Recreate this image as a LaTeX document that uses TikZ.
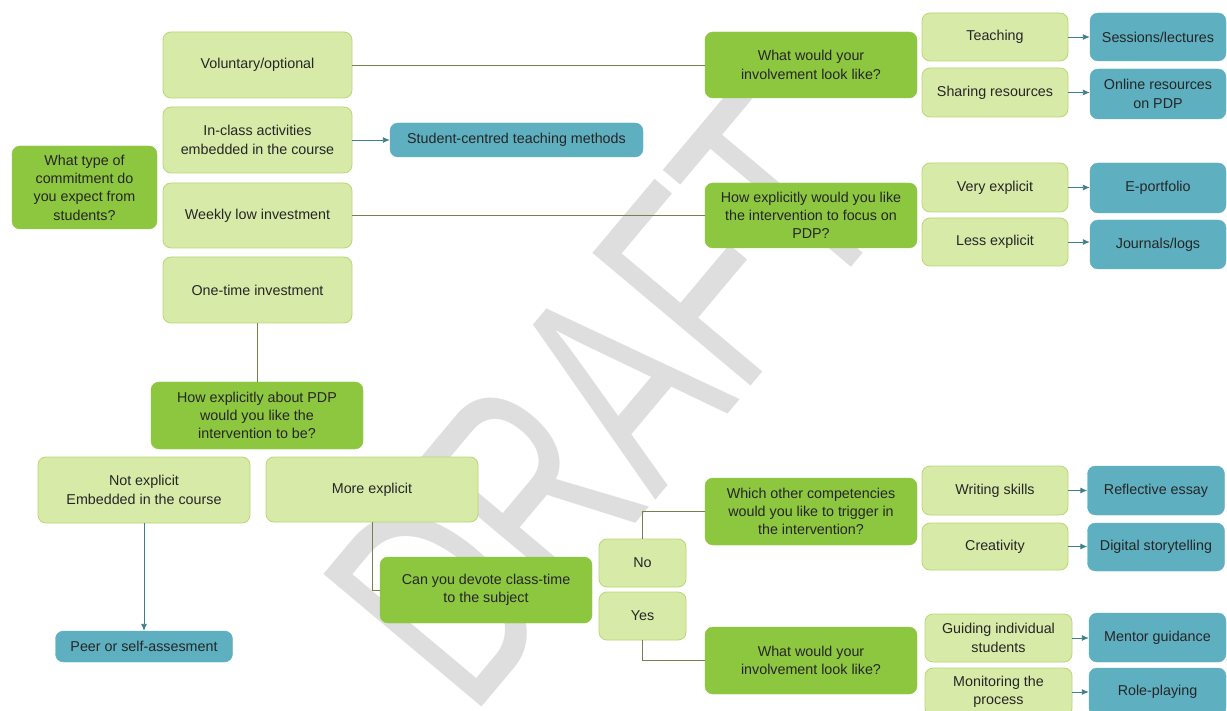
\documentclass[tikz,border=0pt]{standalone}
\usepackage{fontspec}
\usepackage{graphicx}
\setmainfont{Liberation Sans}
\usetikzlibrary{arrows.meta}
\definecolor{qg}{HTML}{8DC63F}
\definecolor{lg}{HTML}{D7EAA8}
\definecolor{lgb}{HTML}{B9D873}
\definecolor{tl}{HTML}{5EAFC0}
\definecolor{ln}{HTML}{75804F}
\definecolor{ar}{HTML}{3F7F8C}
\definecolor{tx}{HTML}{262626}
\definecolor{wm}{HTML}{DEDEDE}
\begin{document}
\begin{tikzpicture}[x=1pt,y=-1pt,
  base/.style={rounded corners=8pt, align=center, inner sep=0pt, text=tx,
    font=\fontsize{14.3}{18.3}\selectfont},
  sz/.style 2 args={minimum width=#1pt, minimum height=#2pt},
  qbox/.style={base, fill=qg, draw=qg},
  obox/.style={base, fill=lg, draw=lgb, line width=0.8pt},
  rbox/.style={base, fill=tl, draw=tl},
  conn/.style={draw=ln, line width=0.9pt},
  arr/.style={draw=ar, line width=0.9pt, -{Latex[length=7pt,width=6pt]}},
]
\useasboundingbox (0,0) rectangle (1227,711);
\clip (0,0) rectangle (1227,711);
\fill[white] (0,0) rectangle (1227,711);

% watermark
\node[rotate=50, text=wm, inner sep=0pt, font=\fontsize{300}{300}\selectfont] (wmk) at (605,400) {\scalebox{0.66}[1]{DRAFT}};

% left column
\node[qbox, sz={145}{83}] (q1) at (84.5,187.5) {What type of\\commitment do\\you expect from\\students?};
\node[obox, sz={189}{66}] (vol) at (257.5,65) {Voluntary/optional};
\node[obox, sz={189}{66}] (incl) at (257.5,140) {In-class activities\\embedded in the course};
\node[obox, sz={189}{65}] (week) at (257.5,215.5) {Weekly low investment};
\node[obox, sz={189}{66}] (one) at (257.5,290) {One-time investment};
\node[rbox, sz={253}{34}] (scm) at (516.5,140) {Student-centred teaching methods};

% top right
\node[qbox, sz={212}{66}] (q2) at (811,65) {What would your\\involvement look like?};
\node[qbox, sz={212}{65}] (q3) at (811,215.5) {How explicitly would you like\\the intervention to focus on\\PDP?};
\node[obox, sz={146}{48}] (teach) at (995,37) {Teaching};
\node[obox, sz={146}{49}] (share) at (995,92.5) {Sharing resources};
\node[rbox, sz={136}{48}] (sess) at (1158,37) {Sessions/lectures};
\node[rbox, sz={136}{50}] (online) at (1158,94) {Online resources\\on PDP};
\node[obox, sz={146}{49}] (very) at (995,187.5) {Very explicit};
\node[obox, sz={146}{48}] (less) at (995,242) {Less explicit};
\node[rbox, sz={136}{50}] (eport) at (1158,188) {E-portfolio};
\node[rbox, sz={136}{49}] (journ) at (1158,244.5) {Journals/logs};

% lower left
\node[qbox, sz={212}{67}] (q4) at (257,415.5) {How explicitly about PDP\\would you like the\\intervention to be?};
\node[obox, sz={212}{66}] (notex) at (144,490) {Not explicit\\Embedded in the course};
\node[obox, sz={212}{65}] (more) at (372,489.5) {More explicit};
\node[rbox, sz={177}{31}] (peer) at (144,646.5) {Peer or self-assesment};
\node[qbox, sz={212}{66}] (devote) at (486,590) {Can you devote class-time\\to the subject};
\node[obox, sz={87}{48}] (no) at (642.5,563) {No};
\node[obox, sz={87}{48}] (yes) at (642.5,616) {Yes};

% lower right
\node[qbox, sz={212}{67}] (q5) at (811,511.5) {Which other competencies\\would you like to trigger in\\the intervention?};
\node[qbox, sz={212}{67}] (q6) at (811,660.5) {What would your\\involvement look like?};
\node[obox, sz={146}{49}] (write) at (995,490.5) {Writing skills};
\node[obox, sz={146}{47}] (creat) at (995,546.5) {Creativity};
\node[rbox, sz={137}{49}] (refl) at (1156,490.5) {Reflective essay};
\node[rbox, sz={137}{48}] (digi) at (1156,547) {Digital storytelling};
\node[obox, sz={147}{48}] (guide) at (998.5,638) {Guiding individual\\students};
\node[obox, sz={147}{48}] (monit) at (998.5,692) {Monitoring the\\process};
\node[rbox, sz={137}{49}] (mentor) at (1157.5,637.5) {Mentor guidance};
\node[rbox, sz={137}{48}] (role) at (1157.5,692) {Role-playing};

% connectors
\draw[conn] (vol.east) -- (q2.west);
\draw[conn] (week.east) -- (q3.west);
\draw[conn] (one.south) -- (one.south |- q4.north);
\draw[conn] (more.south) |- (devote.west);
\draw[conn] (no.north) |- (q5.west);
\draw[conn] (yes.south) |- (q6.west);

% arrows
\draw[arr] (incl.east) -- (scm.west);
\draw[arr] (notex.south) -- (notex.south |- peer.north);
\draw[arr] (teach.east) -- (sess.west |- teach.east);
\draw[arr] (share.east) -- (online.west |- share.east);
\draw[arr] (very.east) -- (eport.west |- very.east);
\draw[arr] (less.east) -- (journ.west |- less.east);
\draw[arr] (write.east) -- (refl.west |- write.east);
\draw[arr] (creat.east) -- (digi.west |- creat.east);
\draw[arr] (guide.east) -- (mentor.west |- guide.east);
\draw[arr] (monit.east) -- (role.west |- monit.east);
\end{tikzpicture}
\end{document}
